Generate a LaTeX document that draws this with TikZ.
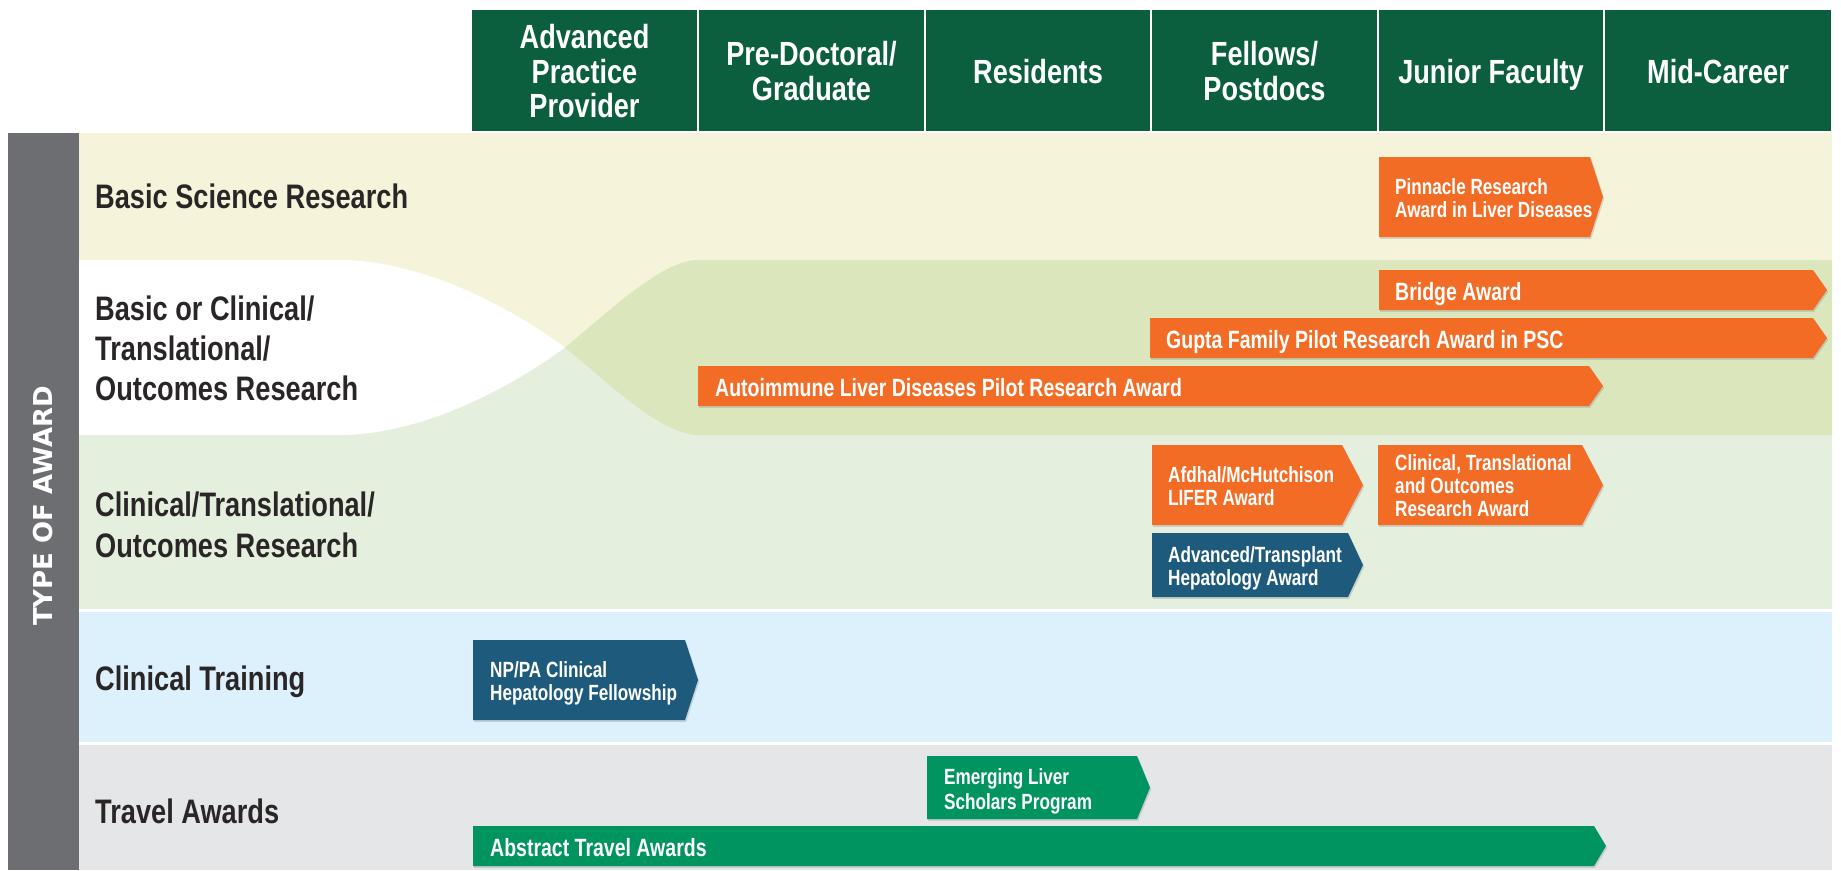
\documentclass[tikz,border=0pt]{standalone}
\usepackage{fontspec}
\setmainfont{Liberation Sans}
\newfontfamily\hdrfont{Liberation Sans}[FakeStretch=0.81]
\newfontfamily\awfont{Liberation Sans}[FakeStretch=0.78]
\newfontfamily\rowfont{Liberation Sans}[FakeStretch=0.80]
\newfontfamily\sidefont{DejaVu Sans}
\usetikzlibrary{shadows}
\definecolor{hdrgreen}{HTML}{0B5E3E}
\definecolor{aworange}{HTML}{F36C25}
\definecolor{awblue}{HTML}{1E5A7C}
\definecolor{awgreen}{HTML}{009460}
\definecolor{rowcream}{HTML}{F5F4DA}
\definecolor{rowolive}{HTML}{DCE6BD}
\definecolor{rowlgreen}{HTML}{E4EFDD}
\definecolor{rowblue}{HTML}{DCF1FB}
\definecolor{rowgrey}{HTML}{E5E6E8}
\definecolor{sidegrey}{HTML}{6D6E71}
\definecolor{labeltext}{HTML}{2A2627}
\newcommand\awardshape[6]{\path[awshape, fill=#6] (#1,#2) -- (#3,#2) -- (#4,{(#2+#5)/2}) -- (#3,#5) -- (#1,#5) -- cycle;}
\begin{document}
\begin{tikzpicture}[x=1pt,y=-1pt,
  hdrtxt/.style={text=white, font=\hdrfont\bfseries\fontsize{33.5}{35}\selectfont, anchor=base, inner sep=0pt},
  rowtxt/.style={text=labeltext, font=\rowfont\bfseries\fontsize{34}{36}\selectfont, anchor=base west, inner sep=0pt},
  awtxt/.style={text=white, font=\awfont\bfseries\fontsize{22}{24}\selectfont, anchor=base west, inner sep=0pt},
  awtxtbig/.style={text=white, font=\awfont\bfseries\fontsize{25}{27}\selectfont, anchor=base west, inner sep=0pt},
  awshape/.style={drop shadow={shadow xshift=1.2pt, shadow yshift=-1.8pt, opacity=0.28}},
  sidetxt/.style={text=white, font=\sidefont\bfseries\fontsize{26}{28}\selectfont, inner sep=0pt, rotate=90}
]
\useasboundingbox (0,0) rectangle (1841,870);
\fill[white] (0,0) rectangle (1841,870);
% row backgrounds
\fill[rowcream] (79,133) rectangle (1832,260);
\fill[rowcream] (79,260) rectangle (760,347.5);
\fill[rowlgreen] (79,347.5) rectangle (760,435);
\fill[rowlgreen] (79,435) rectangle (1832,609);
\fill[rowblue] (79,612) rectangle (1832,742);
\fill[rowgrey] (79,745) rectangle (1832,870);
% white lens
\fill[white] (79,260) -- (347,260) .. controls (420,263) and (500,300) .. (565,347.5)
  .. controls (500,395) and (420,432) .. (347,435) -- (79,435) -- cycle;
% olive band
\fill[rowolive] (1832,260) -- (697,260) .. controls (660,261) and (605,315) .. (565,347.5)
  .. controls (605,380) and (660,434) .. (697,435) -- (1832,435) -- cycle;
% side bar
\fill[sidegrey] (8,133) rectangle (79,870);
\node[sidetxt] (side) at (43.5,506) {TYPE OF AWARD};
% header cells
\fill[hdrgreen] (472,10) rectangle (697,131);
\fill[hdrgreen] (699,10) rectangle (924,131);
\fill[hdrgreen] (926,10) rectangle (1150,131);
\fill[hdrgreen] (1152,10) rectangle (1377,131);
\fill[hdrgreen] (1379,10) rectangle (1603,131);
\fill[hdrgreen] (1605,10) rectangle (1831,131);
\node[hdrtxt] (h1a) at (584.5,48) {Advanced};
\node[hdrtxt] (h1b) at (584.5,83) {Practice};
\node[hdrtxt] (h1c) at (584.5,117) {Provider};
\node[hdrtxt] (h2a) at (811.5,65) {Pre-Doctoral/};
\node[hdrtxt] (h2b) at (811.5,100) {Graduate};
\node[hdrtxt] (h3) at (1038,83) {Residents};
\node[hdrtxt] (h4a) at (1264.5,65) {Fellows/};
\node[hdrtxt] (h4b) at (1264.5,100) {Postdocs};
\node[hdrtxt] (h5) at (1491,83) {Junior Faculty};
\node[hdrtxt] (h6) at (1718,83) {Mid-Career};
% row labels
\node[rowtxt] (r1) at (95,208) {Basic Science Research};
\node[rowtxt] (r2a) at (95,320) {Basic or Clinical/};
\node[rowtxt] (r2b) at (95,360) {Translational/};
\node[rowtxt] (r2c) at (95,400) {Outcomes Research};
\node[rowtxt] (r3a) at (95,516) {Clinical/Translational/};
\node[rowtxt] (r3b) at (95,557) {Outcomes Research};
\node[rowtxt] (r4) at (95,690) {Clinical Training};
\node[rowtxt] (r5) at (95,823) {Travel Awards};
% award shapes
\awardshape{1379}{157}{1590}{1603}{237}{aworange}
\awardshape{1379}{270}{1813}{1827}{310}{aworange}
\awardshape{1150}{318}{1813}{1827}{358}{aworange}
\awardshape{698}{366}{1589}{1603}{406}{aworange}
\awardshape{1152}{445}{1342}{1363}{525}{aworange}
\awardshape{1378}{445}{1582}{1603}{525}{aworange}
\awardshape{1152}{533}{1348}{1363}{597}{awblue}
\awardshape{473}{640}{685}{698}{720}{awblue}
\awardshape{927}{756}{1137}{1150}{819}{awgreen}
\awardshape{473}{826}{1594}{1606}{866}{awgreen}
% award texts
\node[awtxt] (pin1) at (1395,194) {Pinnacle Research};
\node[awtxt] (pin2) at (1395,217) {Award in Liver Diseases};
\node[awtxtbig] (bridge) at (1395,300) {Bridge Award};
\node[awtxtbig] (gupta) at (1166,348) {Gupta Family Pilot Research Award in PSC};
\node[awtxtbig] (auto) at (715,396) {Autoimmune Liver Diseases Pilot Research Award};
\node[awtxt] (afd1) at (1168,482) {Afdhal/McHutchison};
\node[awtxt] (afd2) at (1168,505) {LIFER Award};
\node[awtxt] (cto1) at (1395,470) {Clinical, Translational};
\node[awtxt] (cto2) at (1395,493) {and Outcomes};
\node[awtxt] (cto3) at (1395,516) {Research Award};
\node[awtxt] (adv1) at (1168,562) {Advanced/Transplant};
\node[awtxt] (adv2) at (1168,585) {Hepatology Award};
\node[awtxt] (np1) at (490,677) {NP/PA Clinical};
\node[awtxt] (np2) at (490,700) {Hepatology Fellowship};
\node[awtxt] (em1) at (944,784) {Emerging Liver};
\node[awtxt] (em2) at (944,809) {Scholars Program};
\node[awtxtbig] (abs) at (490,856) {Abstract Travel Awards};
\end{tikzpicture}
\end{document}
